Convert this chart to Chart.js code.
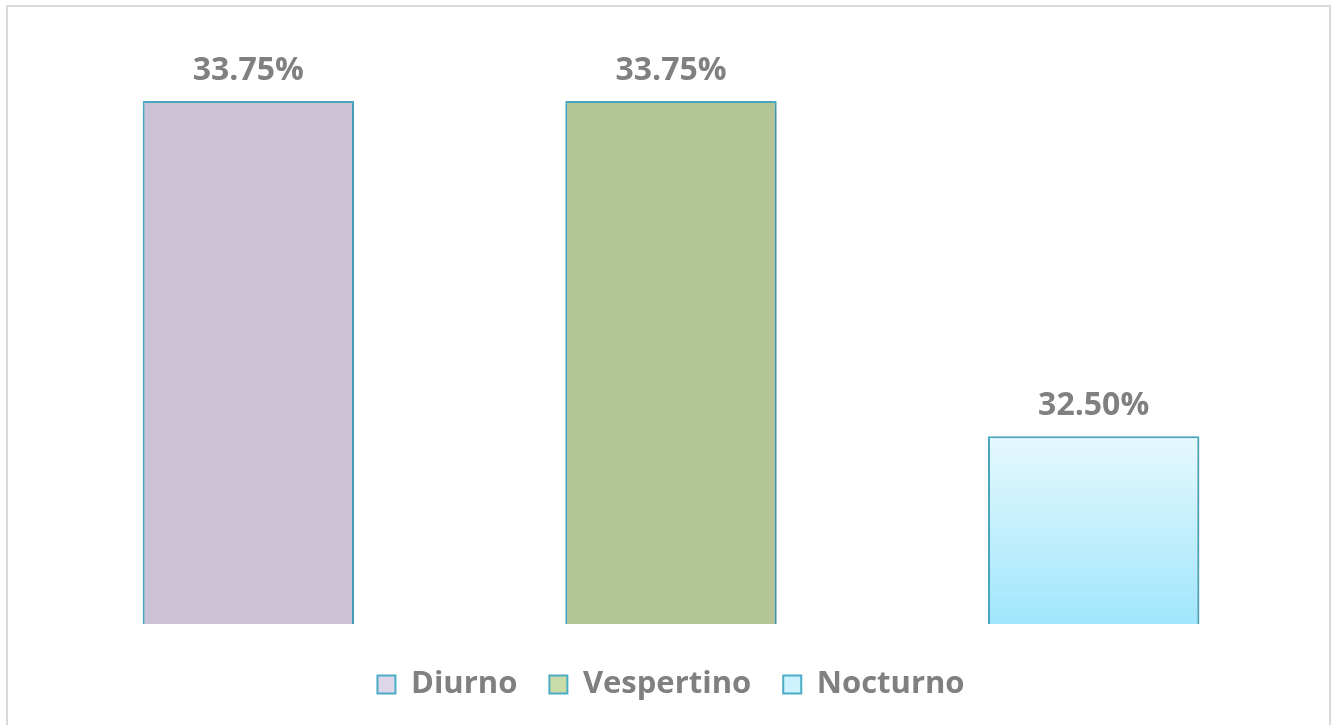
<!DOCTYPE html>
<html lang="es">
<head>
<meta charset="UTF-8">
<title>Turno</title>
<script src="https://cdn.jsdelivr.net/npm/chart.js"></script>
<style>
    html, body {
        margin: 0;
        padding: 0;
        background: #ffffff;
        overflow: hidden;
        width: 1338px;
        height: 725px;
    }
    #frame {
        position: absolute;
        left: 6px;
        top: 5px;
        width: 1325px;
        height: 800px;
        border: 2px solid #d9d9d9;
        box-sizing: border-box;
    }
    #chart {
        position: absolute;
        left: 0;
        top: 0;
    }
</style>
</head>
<body>
<div id="frame"></div>
<canvas id="chart" width="1338" height="725"></canvas>
<script>
    // datos
    const categories = ["Diurno", "Vespertino", "Nocturno"];
    const values = [33.75, 33.75, 32.50];
    const labelsText = ["33.75%", "33.75%", "32.50%"];

    const barColors = ["#ccc2d5", "#b3c595", null];
    const legendColors = ["#ddd6e8", "#c9dba6", "#cdf2fd"];
    const borderColor = "#4bacc6";
    const textColor = "#808080";
    const fontFamily = "'Open Sans', 'Noto Sans', sans-serif";

    function nocturnoFill(context) {
        const chart = context.chart;
        const area = chart.chartArea;
        if (!area) return "#c6effc";
        const yTop = chart.scales.y.getPixelForValue(values[2]);
        const g = chart.ctx.createLinearGradient(0, yTop, 0, area.bottom);
        g.addColorStop(0, "#e6f8fe");
        g.addColorStop(1, "#a0e6fb");
        return g;
    }

    const datasets = categories.map((name, i) => ({
        label: name,
        data: categories.map((c, j) => (i === j ? values[i] : null)),
        backgroundColor: barColors[i] || nocturnoFill,
        borderColor: borderColor,
        borderWidth: 2,
        categoryPercentage: 0.5,
        barPercentage: 1.0,
        borderSkipped: false
    }));

    const shadowPlugin = {
        id: "shadow",
        beforeDatasetsDraw(chart) {
            const ctx = chart.ctx;
            ctx.save();
            ctx.shadowColor = "rgba(0,0,0,0.22)";
            ctx.shadowBlur = 5;
            ctx.shadowOffsetX = 1;
            ctx.shadowOffsetY = 1;
        },
        afterDatasetsDraw(chart) {
            chart.ctx.restore();
        }
    };

    const valueLabels = {
        id: "valueLabels",
        afterDatasetsDraw(chart) {
            const ctx = chart.ctx;
            ctx.save();
            ctx.font = "bold 32px " + fontFamily;
            ctx.fillStyle = textColor;
            ctx.textAlign = "center";
            ctx.textBaseline = "alphabetic";
            chart.data.datasets.forEach((ds, i) => {
                const meta = chart.getDatasetMeta(i);
                meta.data.forEach((bar, j) => {
                    if (ds.data[j] === null) return;
                    ctx.fillText(labelsText[j], bar.x, bar.y - 21);
                });
            });
            ctx.restore();
        }
    };

    new Chart(document.getElementById("chart").getContext("2d"), {
        type: "bar",
        data: {
            labels: categories,
            datasets: datasets
        },
        options: {
            responsive: false,
            animation: false,
            layout: {
                padding: { left: 37, right: 33, top: 34, bottom: 15 }
            },
            scales: {
                x: { display: false },
                y: { display: false, min: 31.8, max: 34 }
            },
            datasets: {
                bar: { skipNull: true }
            },
            plugins: {
                tooltip: { enabled: false },
                legend: {
                    position: "bottom",
                    // empty title only used as vertical spacer above the legend row
                    title: {
                        display: true,
                        text: "",
                        font: { size: 1, lineHeight: 1 },
                        padding: { top: 12, bottom: 0 }
                    },
                    labels: {
                        boxWidth: 18,
                        boxHeight: 18,
                        padding: 32,
                        color: textColor,
                        font: { family: fontFamily, size: 31, weight: "bold" },
                        generateLabels: (chart) => categories.map((c, i) => ({
                            text: c,
                            fillStyle: legendColors[i],
                            strokeStyle: borderColor,
                            lineWidth: 2,
                            fontColor: textColor,
                            hidden: false,
                            datasetIndex: i
                        }))
                    }
                }
            }
        },
        plugins: [shadowPlugin, valueLabels]
    });
</script>
</body>
</html>
